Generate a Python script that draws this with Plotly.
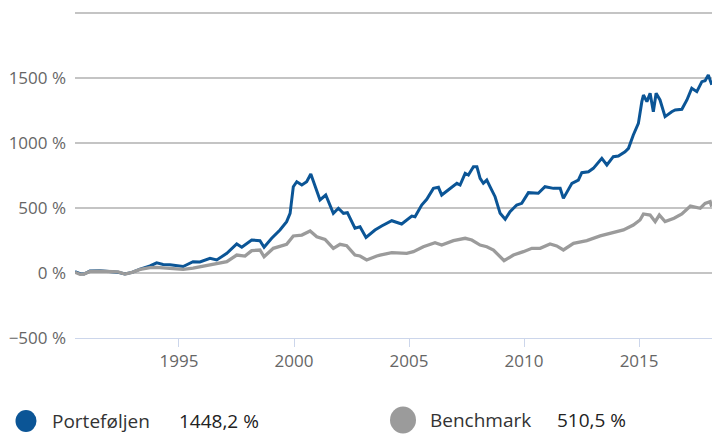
import plotly.graph_objects as go

# ---------------- data ----------------
port_years = [1990.48, 1990.70, 1990.87, 1991.13, 1991.57, 1992.00, 1992.35, 1992.65, 1992.96, 1993.31,
              1993.74, 1994.03, 1994.31, 1994.61, 1995.18, 1995.61, 1995.91, 1996.35, 1996.64, 1997.08,
              1997.51, 1997.73, 1998.16, 1998.52, 1998.70, 1999.03, 1999.39, 1999.68, 1999.83, 1999.97,
              2000.12, 2000.34, 2000.55, 2000.73, 2000.96, 2001.13, 2001.38, 2001.71, 2001.93, 2002.15,
              2002.32, 2002.65, 2002.87, 2003.13, 2003.52, 2003.81, 2004.25, 2004.68, 2005.12, 2005.26,
              2005.55, 2005.77, 2006.06, 2006.28, 2006.42, 2006.86, 2007.08, 2007.22, 2007.44, 2007.58,
              2007.80, 2007.95, 2008.09, 2008.23, 2008.38, 2008.52, 2008.74, 2008.96, 2009.18, 2009.39,
              2009.68, 2009.90, 2010.19, 2010.62, 2010.91, 2011.28, 2011.57, 2011.71, 2012.08, 2012.36,
              2012.51, 2012.80, 2013.01, 2013.38, 2013.60, 2013.88, 2014.10, 2014.39, 2014.54, 2014.75,
              2014.97, 2015.12, 2015.19, 2015.34, 2015.48, 2015.62, 2015.74, 2015.91, 2016.13, 2016.42,
              2016.57, 2016.86, 2017.08, 2017.29, 2017.51, 2017.73, 2017.87, 2018.01, 2018.16]
port_values = [10, -5, -8, 15, 18, 12, 5, -8, 5, 30,
               54, 78, 65, 64, 50, 87, 85, 113, 100, 151,
               223, 198, 254, 249, 198, 267, 331, 395, 459, 664,
               702, 677, 702, 762, 638, 562, 600, 459, 498, 459,
               464, 344, 356, 274, 331, 362, 402, 377, 438, 433,
               523, 567, 651, 659, 600, 664, 690, 677, 767, 754,
               818, 818, 728, 690, 715, 664, 587, 459, 413, 472,
               523, 536, 618, 613, 664, 651, 651, 574, 690, 715,
               772, 779, 805, 882, 831, 895, 900, 933, 959, 1062,
               1151, 1318, 1369, 1318, 1382, 1241, 1382, 1331, 1203, 1241,
               1254, 1259, 1331, 1421, 1395, 1472, 1479, 1523, 1448.2]

bench_years = [1990.48, 1990.70, 1990.87, 1991.13, 1991.57, 1992.00, 1992.35, 1992.65, 1992.96, 1993.31,
               1993.74, 1994.03, 1994.61, 1995.18, 1995.61, 1996.35, 1997.08, 1997.51, 1997.87, 1998.16,
               1998.52, 1998.70, 1999.10, 1999.68, 1999.97, 2000.34, 2000.70, 2000.99, 2001.35, 2001.71,
               2002.00, 2002.29, 2002.65, 2002.87, 2003.16, 2003.60, 2003.74, 2004.25, 2004.90, 2005.19,
               2005.62, 2006.13, 2006.42, 2006.93, 2007.44, 2007.73, 2008.09, 2008.38, 2008.67, 2009.13,
               2009.54, 2009.97, 2010.34, 2010.70, 2011.13, 2011.42, 2011.71, 2012.15, 2012.73, 2013.31,
               2013.88, 2014.32, 2014.75, 2015.04, 2015.19, 2015.48, 2015.70, 2015.88, 2016.13, 2016.52,
               2016.86, 2017.23, 2017.66, 2017.87, 2018.09, 2018.16]
bench_values = [5, -10, -8, 12, 15, 8, 8, -8, 5, 28,
                42, 44, 36, 28, 38, 62, 87, 138, 130, 172,
                177, 125, 190, 221, 285, 292, 323, 279, 259, 190,
                221, 210, 138, 131, 100, 131, 138, 156, 151, 164,
                202, 233, 215, 249, 267, 254, 215, 202, 177, 95,
                138, 164, 190, 190, 223, 208, 177, 228, 249, 285,
                310, 331, 369, 408, 454, 446, 395, 446, 395, 421,
                454, 515, 498, 536, 549, 510.5]

series_names = ["Porteføljen", "Benchmark"]
final_returns = [1448.2, 510.5]

x_ticks = [1995, 2000, 2005, 2010, 2015]
y_ticks = [-500, 0, 500, 1000, 1500, 2000]
y_tick_labels = ["−500 %", "0 %", "500 %", "1000 %", "1500 %", ""]

BLUE = "#0b5596"
GREY = "#9b9b9b"
FONT = "Open Sans"

# ---------------- layout helpers ----------------
W, H = 712, 435
ML, MR, MT, MB = 75, 0, 10, 97
PW, PH = W - ML - MR, H - MT - MB


def px(x):
    return (x - ML) / PW


def py(y):
    return (H - MB - y) / PH


fig = go.Figure()
fig.add_trace(go.Scatter(x=port_years, y=port_values, mode="lines", name=series_names[0],
                         line=dict(color=BLUE, width=3), hoverinfo="skip"))
fig.add_trace(go.Scatter(x=bench_years, y=bench_values, mode="lines", name=series_names[1],
                         line=dict(color=GREY, width=3.3), hoverinfo="skip"))

# custom legend
legend_items = [
    dict(cx=26, cy=421, rx=10.5, ry=11, color=BLUE, label_x=50, value_x=177),
    dict(cx=403, cy=420, rx=13, ry=13.5, color=GREY, label_x=428, value_x=555),
]
for item, name, val in zip(legend_items, series_names, final_returns):
    fig.add_shape(type="circle", xref="paper", yref="paper",
                  x0=px(item["cx"] - item["rx"]), x1=px(item["cx"] + item["rx"]),
                  y0=py(item["cy"] + item["ry"]), y1=py(item["cy"] - item["ry"]),
                  fillcolor=item["color"], line=dict(width=0))
    fig.add_annotation(x=px(item["label_x"]), y=py(item["cy"]), xref="paper", yref="paper",
                       xanchor="left", yanchor="middle", showarrow=False, text=name,
                       font=dict(family=FONT, size=19, color="#333333"))
    fig.add_annotation(x=px(item["value_x"]), y=py(item["cy"]), xref="paper", yref="paper",
                       xanchor="left", yanchor="middle", showarrow=False,
                       text=f"{val:.1f}".replace(".", ",") + " %",
                       font=dict(family=FONT, size=19, color="#222222"))

fig.update_layout(
    width=W, height=H,
    margin=dict(l=ML, r=MR, t=MT, b=MB, pad=0, autoexpand=False),
    paper_bgcolor="white", plot_bgcolor="white",
    showlegend=False,
    font=dict(family=FONT, color="#666666"),
    xaxis=dict(range=[1990.48, 2018.17], tickvals=x_ticks, ticktext=[str(t) for t in x_ticks],
               showgrid=False, zeroline=False, showline=True, linecolor="#ccd6eb", linewidth=1,
               ticks="outside", ticklen=8, tickcolor="#ccd6eb", tickwidth=1, automargin=False,
               tickfont=dict(family=FONT, size=17, color="#666666")),
    yaxis=dict(range=[-500, 2023.1], tickvals=y_ticks, ticktext=y_tick_labels,
               showgrid=True, gridcolor="#c4c4c4", gridwidth=1.5, zeroline=False,
               showline=False, ticks="", ticklabelstandoff=8, automargin=False,
               tickfont=dict(family=FONT, size=17, color="#666666")),
)

fig.write_html("out.html", config={"displayModeBar": False, "staticPlot": True},
               post_script="document.body.style.margin='0';document.body.style.overflow='hidden';")
